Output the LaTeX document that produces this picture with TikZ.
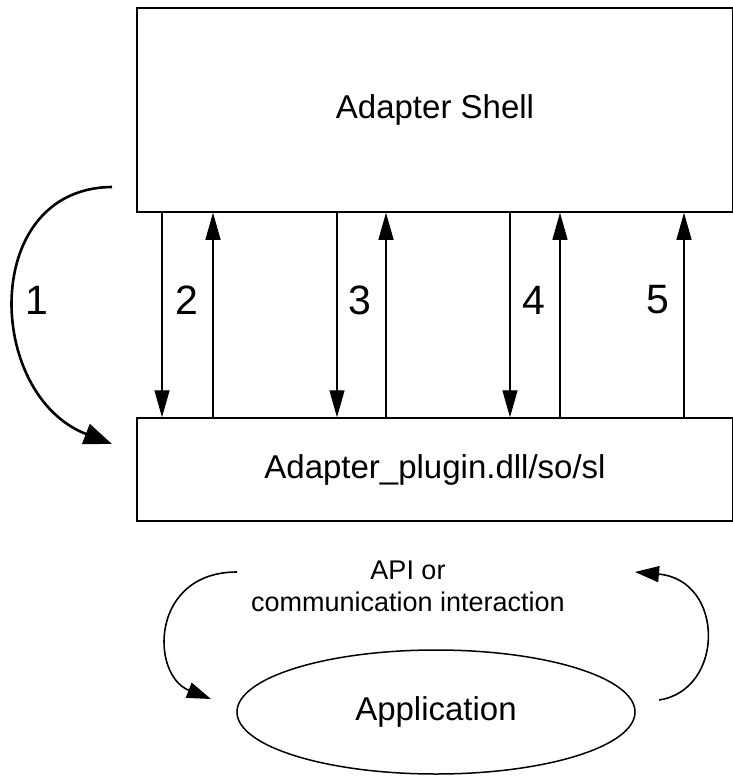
\documentclass[tikz,border=0pt]{standalone}
\usepackage{fontspec}
\setmainfont{Liberation Sans}
\usetikzlibrary{arrows.meta,shapes.geometric}
\begin{document}
\begin{tikzpicture}[x=1pt,y=-1pt,
  boxnode/.style={draw,line width=1.5pt,inner sep=0pt,font=\fontsize{33}{39}\selectfont},
  vline/.style={line width=1.3pt},
  vtip/.style={-{Triangle[length=27pt,width=15pt]}},
  numlabel/.style={font=\fontsize{41}{47}\selectfont,inner sep=0pt},
  bigcurve/.style={line width=2.6pt,-{Triangle[length=28pt,width=21pt]}},
  smallcurve/.style={line width=1.6pt,-{Triangle[length=24pt,width=16pt]}}]
\useasboundingbox (0,0) rectangle (733,776);
\node[boxnode,minimum width=596pt,minimum height=204pt] (shell) at (435,110) {Adapter Shell};
\node[boxnode,minimum width=596pt,minimum height=103pt] (plugin) at (435,469.5) {Adapter\_plugin.dll/so/sl};
\node[draw,ellipse,line width=1.5pt,inner sep=0pt,minimum width=398pt,minimum height=124pt,
  font=\fontsize{33}{39}\selectfont] (app) at (436,712) {Application};
\node[align=center,inner sep=0pt,font=\fontsize{27}{32}\selectfont] (api) at (408,586) {API or\\communication interaction};
% vertical connector positions
\coordinate (xa) at (162,0);
\coordinate (xb) at (213,0);
\coordinate (xc) at (337,0);
\coordinate (xd) at (386,0);
\coordinate (xe) at (510,0);
\coordinate (xf) at (560,0);
\coordinate (xg) at (684,0);
\draw[vline,vtip] (shell.south -| xa) -- (plugin.north -| xa);
\draw[vline,vtip] (plugin.north -| xb) -- (shell.south -| xb);
\draw[vline,vtip] (shell.south -| xc) -- (plugin.north -| xc);
\draw[vline,vtip] (plugin.north -| xd) -- (shell.south -| xd);
\draw[vline,vtip] (shell.south -| xe) -- (plugin.north -| xe);
\draw[vline,vtip] (plugin.north -| xf) -- (shell.south -| xf);
\draw[vline,vtip] (plugin.north -| xg) -- (shell.south -| xg);
% labels
\node[numlabel] (n1) at (37,300) {1};
\node[numlabel] (n2) at (187,300) {2};
\node[numlabel] (n3) at (360,300) {3};
\node[numlabel] (n4) at (534,300) {4};
\node[numlabel] (n5) at (658,300) {5};
% curve 1
\coordinate (c1s) at (112,187);
\coordinate (c1e) at (112,444);
\draw[bigcurve] (c1s) .. controls (-20,188) and (-15,395) .. (c1e);
% bottom curves
\coordinate (bls) at (237,572);
\coordinate (ble) at (211,699);
\draw[smallcurve] (bls) .. controls (150,572) and (150,675) .. (ble);
\coordinate (brs) at (659,700);
\coordinate (bre) at (635,572);
\draw[smallcurve] (brs) .. controls (725,690) and (725,580) .. (bre);
\end{tikzpicture}
\end{document}
